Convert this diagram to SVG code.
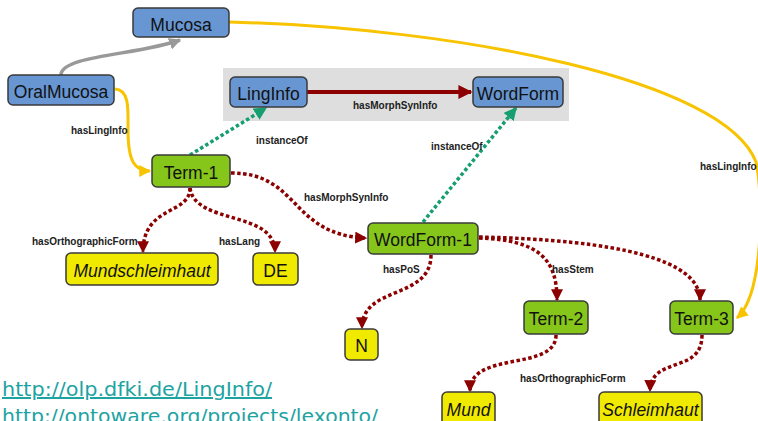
<svg xmlns="http://www.w3.org/2000/svg" width="758" height="421" viewBox="0 0 758 421">
<style>
.box{stroke:#3a3a3a;stroke-width:1.5}
.blue{fill:#6796d2}
.green{fill:#86c51a}
.yellow{fill:#f0e900}
.nt{font-family:"Liberation Sans",Arial,sans-serif;font-size:17.5px;fill:#111;text-anchor:middle}
.it{font-style:italic}
.lbl{font-family:"Liberation Sans",Arial,sans-serif;font-size:10px;font-weight:bold;fill:#222}
.red{fill:none;stroke:#8c0000;stroke-width:3.5;stroke-dasharray:3.5 2.5}
.grn{fill:none;stroke:#159e6e;stroke-width:3.5;stroke-dasharray:3.5 2.5}
.url{font-family:"DejaVu Sans",Verdana,sans-serif;font-size:20px;fill:#1ea3a3;text-decoration:underline}
</style>
<defs>
<marker id="ar" viewBox="0 0 10 10" refX="9" refY="5" markerWidth="12" markerHeight="12" markerUnits="userSpaceOnUse" orient="auto"><path d="M0,0 L10,5 L0,10 z" fill="#8c0000"/></marker>
<marker id="ar2" viewBox="0 0 10 10" refX="9" refY="5" markerWidth="14" markerHeight="14" markerUnits="userSpaceOnUse" orient="auto"><path d="M0,0 L10,5 L0,10 z" fill="#8c0000"/></marker>
<marker id="ag" viewBox="0 0 10 10" refX="9" refY="5" markerWidth="13" markerHeight="13" markerUnits="userSpaceOnUse" orient="auto"><path d="M0,0 L10,5 L0,10 z" fill="#159e6e"/></marker>
<marker id="ay" viewBox="0 0 10 10" refX="9" refY="5" markerWidth="12" markerHeight="12" markerUnits="userSpaceOnUse" orient="auto"><path d="M0,0 L10,5 L0,10 z" fill="#f8c300"/></marker>
<marker id="agr" viewBox="0 0 10 10" refX="9" refY="5" markerWidth="12" markerHeight="12" markerUnits="userSpaceOnUse" orient="auto"><path d="M0,0 L10,5 L0,10 z" fill="#999"/></marker>
</defs>
<rect x="223" y="68" width="346" height="53" fill="#dedede"/>
<g id="connectors">
<path d="M229,22 C460,28 725,80 756,162 C764,200 763,295 737,318" fill="none" stroke="#f8c300" stroke-width="3" marker-end="url(#ay)"/>
<path d="M61,75 C61,55 140,55 180,40" fill="none" stroke="#999" stroke-width="3.5" marker-end="url(#agr)"/>
<path d="M115,89 C130,90 128,110 128,130 C128,162 135,171 150,171" fill="none" stroke="#f8c300" stroke-width="3" marker-end="url(#ay)"/>
<path d="M307,92 L471,92" fill="none" stroke="#8c0000" stroke-width="4" marker-end="url(#ar2)"/>
<path class="grn" d="M190,155 L266,108" marker-end="url(#ag)"/>
<path class="grn" d="M423,222 L516,108" marker-end="url(#ag)"/>
<path class="red" d="M231,173 C300,173 290,235 366,238" marker-end="url(#ar)"/>
<path class="red" d="M190,188 C190,215 143,205 143,252" marker-end="url(#ar)"/>
<path class="red" d="M190,188 C195,225 275,210 275,252" marker-end="url(#ar)"/>
<path class="red" d="M431,255 C431,300 362,285 362,328" marker-end="url(#ar)"/>
<path class="red" d="M479,238 C540,240 557,260 557,300" marker-end="url(#ar)"/>
<path class="red" d="M479,237 C620,240 700,260 700,300" marker-end="url(#ar)"/>
<path class="red" d="M556,335 C556,372 470,350 470,391" marker-end="url(#ar)"/>
<path class="red" d="M702,335 C702,375 651,355 650,391" marker-end="url(#ar)"/>
<text class="lbl" x="71" y="134">hasLingInfo</text>
<text class="lbl" x="256" y="144">instanceOf</text>
<text class="lbl" x="353" y="109">hasMorphSynInfo</text>
<text class="lbl" x="431" y="150">instanceOf</text>
<text class="lbl" x="700" y="170">hasLingInfo</text>
<text class="lbl" x="304" y="201">hasMorphSynInfo</text>
<text class="lbl" x="32" y="245">hasOrthographicForm</text>
<text class="lbl" x="219" y="245">hasLang</text>
<text class="lbl" x="383" y="273">hasPoS</text>
<text class="lbl" x="552" y="273">hasStem</text>
<text class="lbl" x="520" y="382">hasOrthographicForm</text>
</g>
<g id="Mucosa"><rect class="box blue" x="133" y="8" width="96" height="29" rx="5"/><text class="nt" x="181" y="31">Mucosa</text></g>
<g id="OralMucosa"><rect class="box blue" x="8" y="75" width="106" height="30" rx="5"/><text class="nt" x="61" y="98">OralMucosa</text></g>
<g id="LingInfo"><rect class="box blue" x="230" y="77" width="77" height="30" rx="5"/><text class="nt" x="268.5" y="100">LingInfo</text></g>
<g id="WordForm"><rect class="box blue" x="473" y="77" width="90" height="30" rx="5"/><text class="nt" x="518" y="100">WordForm</text></g>
<g id="Term-1"><rect class="box green" x="152" y="155" width="78" height="32" rx="5"/><text class="nt" x="191" y="179">Term-1</text></g>
<g id="WordForm-1"><rect class="box green" x="368" y="223" width="110" height="31" rx="5"/><text class="nt" x="423" y="246">WordForm-1</text></g>
<g id="Term-2"><rect class="box green" x="524" y="301" width="64" height="33" rx="5"/><text class="nt" x="556" y="325">Term-2</text></g>
<g id="Term-3"><rect class="box green" x="670" y="301" width="63" height="33" rx="5"/><text class="nt" x="701.5" y="325">Term-3</text></g>
<g id="Mundschleimhaut"><rect class="box yellow" x="66" y="253" width="152" height="32" rx="5"/><text class="nt it" x="142" y="277">Mundschleimhaut</text></g>
<g id="DE"><rect class="box yellow" x="253" y="253" width="45" height="32" rx="5"/><text class="nt" x="275.5" y="277">DE</text></g>
<g id="N"><rect class="box yellow" x="345" y="329" width="33" height="31" rx="5"/><text class="nt" x="361.5" y="352">N</text></g>
<g id="Mund"><rect class="box yellow" x="442" y="392" width="53" height="40" rx="5"/><text class="nt it" x="468.5" y="416">Mund</text></g>
<g id="Schleimhaut"><rect class="box yellow" x="599" y="392" width="103" height="40" rx="5"/><text class="nt it" x="650.5" y="416">Schleimhaut</text></g>
<text class="url" x="2" y="396" textLength="270" lengthAdjust="spacingAndGlyphs">http://olp.dfki.de/LingInfo/</text>
<text class="url" x="2" y="423" textLength="376" lengthAdjust="spacingAndGlyphs">http://ontoware.org/projects/lexonto/</text>
</svg>
